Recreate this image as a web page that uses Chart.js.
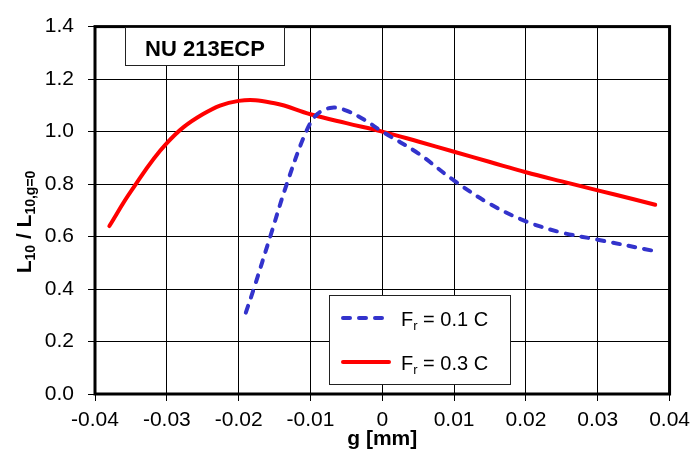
<!DOCTYPE html>
<html>
<head>
<meta charset="utf-8">
<script src="https://cdn.jsdelivr.net/npm/chart.js@4.4.1/dist/chart.umd.min.js"></script>
<style>
  html, body { margin: 0; padding: 0; background: #fff; }
</style>
</head>
<body>
<canvas id="gapChart" width="697" height="452"></canvas>
<script>
// F_r = 0.1 C (blue dashed)
const gapLow = [-0.019, -0.0179, -0.0156, -0.0133, -0.0106, -0.009, -0.007, -0.005, -0.0025, 0, 0.005, 0.01, 0.015, 0.02, 0.025, 0.03, 0.0375];
const lifeLow = [0.31, 0.40, 0.60, 0.80, 1.0, 1.068, 1.091, 1.08, 1.045, 1.0, 0.917, 0.813, 0.724, 0.658, 0.615, 0.588, 0.547];
// F_r = 0.3 C (red solid)
const gapHigh = [-0.038, -0.035, -0.03, -0.025, -0.02, -0.015, -0.01, -0.005, 0, 0.005, 0.01, 0.015, 0.02, 0.025, 0.03, 0.035, 0.038];
const lifeHigh = [0.64, 0.772, 0.956, 1.066, 1.117, 1.108, 1.066, 1.032, 1.0, 0.962, 0.923, 0.884, 0.845, 0.81, 0.776, 0.742, 0.721];

const xTickLabels = ["-0.04", "-0.03", "-0.02", "-0.01", "0", "0.01", "0.02", "0.03", "0.04"];
const yTickLabels = ["0.0", "0.2", "0.4", "0.6", "0.8", "1.0", "1.2", "1.4"];

const blue = "rgb(51, 51, 204)";
const red = "rgb(255, 0, 0)";
const fontFamily = "'Liberation Sans', Arial, sans-serif";

const toPoints = (xs, ys) => xs.map((x, i) => ({ x: x, y: ys[i] }));

// frame, caption box, legend and the y-axis title with subscripts
const decorPlugin = {
    id: "decor",
    afterDatasetsDraw(chart) {
        const ctx = chart.ctx;
        const a = chart.chartArea;
        ctx.save();

        ctx.strokeStyle = "#000";
        ctx.lineWidth = 3;
        ctx.strokeRect(a.left, a.top, a.right - a.left, a.bottom - a.top);

        // caption box
        ctx.fillStyle = "#fff";
        ctx.fillRect(125.5, 27.5, 159, 38);
        ctx.lineWidth = 1;
        ctx.strokeStyle = "#222";
        ctx.strokeRect(125.5, 27.5, 159, 38);
        ctx.fillStyle = "#000";
        ctx.font = "bold 22px " + fontFamily;
        ctx.textAlign = "center";
        ctx.textBaseline = "alphabetic";
        ctx.fillText("NU 213ECP", 205, 56);

        // legend
        ctx.fillStyle = "#fff";
        ctx.fillRect(329.5, 295.5, 181, 89);
        ctx.strokeStyle = "#222";
        ctx.strokeRect(329.5, 295.5, 181, 89);

        ctx.lineWidth = 4;
        ctx.lineCap = "round";
        ctx.strokeStyle = blue;
        ctx.setLineDash([7, 9]);
        ctx.beginPath();
        ctx.moveTo(343, 318);
        ctx.lineTo(384, 318);
        ctx.stroke();
        ctx.setLineDash([]);
        ctx.strokeStyle = red;
        ctx.beginPath();
        ctx.moveTo(343, 362);
        ctx.lineTo(389, 362);
        ctx.stroke();

        const legendRows = [["0.1 C", 326], ["0.3 C", 370]];
        ctx.fillStyle = "#000";
        ctx.textAlign = "left";
        legendRows.forEach(([txt, base]) => {
            let x = 401;
            ctx.font = "20px " + fontFamily;
            ctx.fillText("F", x, base);
            x += ctx.measureText("F").width;
            ctx.font = "13px " + fontFamily;
            ctx.fillText("r", x, base + 4);
            x += ctx.measureText("r").width;
            ctx.font = "20px " + fontFamily;
            ctx.fillText(" = " + txt, x, base);
        });

        // y-axis title: L10 / L10,g=0
        const parts = [
            ["L", "bold 21px ", 0],
            ["10", "bold 14px ", 4],
            [" / L", "bold 21px ", 0],
            ["10,g=0", "bold 14px ", 4]
        ];
        let total = 0;
        parts.forEach(p => { ctx.font = p[1] + fontFamily; total += ctx.measureText(p[0]).width; });
        ctx.translate(31, 222);
        ctx.rotate(-Math.PI / 2);
        let px = -total / 2;
        parts.forEach(p => {
            ctx.font = p[1] + fontFamily;
            ctx.fillText(p[0], px, p[2]);
            px += ctx.measureText(p[0]).width;
        });

        ctx.restore();
    }
};

const chart = new Chart(document.getElementById("gapChart").getContext("2d"), {
    type: "line",
    data: {
        datasets: [
            {
                label: "Fr = 0.1 C",
                data: toPoints(gapLow, lifeLow),
                borderColor: blue,
                borderWidth: 4,
                borderDash: [7, 9],
                borderCapStyle: "round",
                tension: 0.35,
                pointRadius: 0,
                fill: false
            },
            {
                label: "Fr = 0.3 C",
                data: toPoints(gapHigh, lifeHigh),
                borderColor: red,
                borderWidth: 4,
                borderCapStyle: "round",
                tension: 0.4,
                pointRadius: 0,
                fill: false
            }
        ]
    },
    options: {
        responsive: false,
        animation: false,
        devicePixelRatio: 1,
        layout: { padding: { top: 20, right: 23, left: 0, bottom: 0 } },
        plugins: {
            legend: { display: false },
            tooltip: { enabled: false }
        },
        scales: {
            x: {
                type: "linear",
                min: -0.04,
                max: 0.04,
                ticks: {
                    stepSize: 0.01,
                    color: "#000",
                    padding: 7,
                    maxRotation: 0,
                    font: { family: fontFamily, size: 21 },
                    callback: (value, index) => xTickLabels[index]
                },
                grid: { color: "#000", lineWidth: 1, tickLength: 7, tickColor: "#000" },
                border: { display: false },
                title: {
                    display: true,
                    text: "g [mm]",
                    color: "#000",
                    font: { family: fontFamily, size: 21, weight: "bold" },
                    padding: { top: 0, bottom: 0 }
                },
                afterFit: scale => { scale.height = 58; }
            },
            y: {
                min: 0,
                max: 1.4,
                ticks: {
                    stepSize: 0.2,
                    color: "#000",
                    padding: 14,
                    font: { family: fontFamily, size: 21 },
                    callback: (value, index) => yTickLabels[index]
                },
                grid: { color: "#000", lineWidth: 1, tickLength: 7, tickColor: "#000" },
                border: { display: false },
                afterFit: scale => { scale.width = 95; }
            }
        }
    },
    plugins: [decorPlugin]
});
</script>
</body>
</html>
